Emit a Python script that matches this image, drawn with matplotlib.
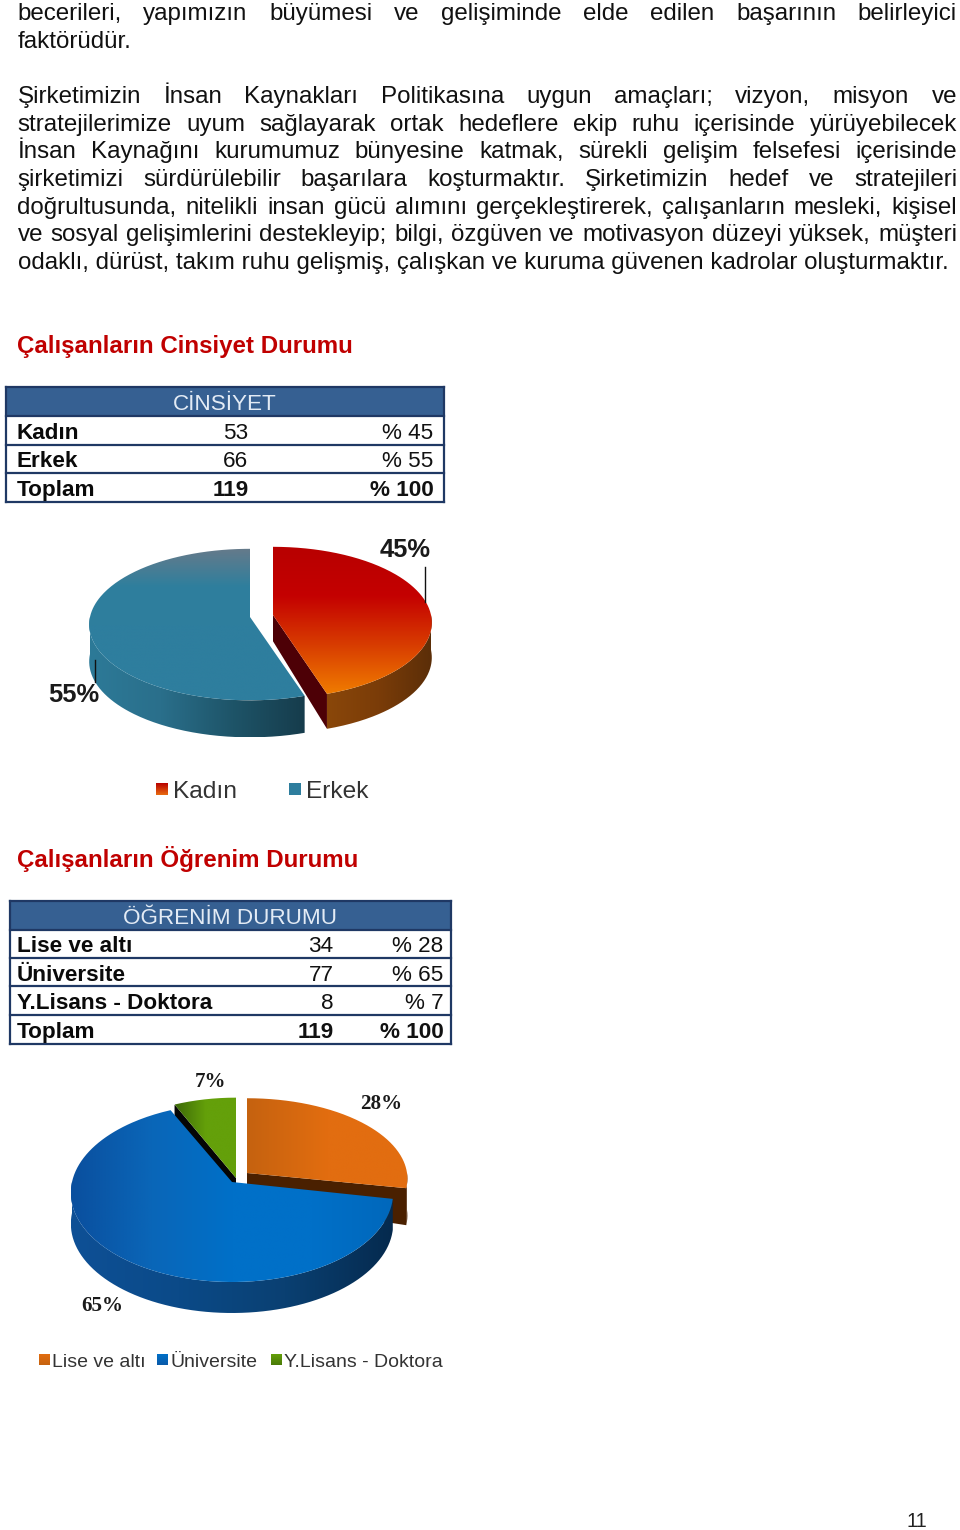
import numpy as np
import matplotlib
matplotlib.use("Agg")
import matplotlib.pyplot as plt
from matplotlib.colors import LinearSegmentedColormap
from matplotlib.patches import PathPatch, Rectangle
from matplotlib.path import Path

# ---------- content ----------
body_lines = [
    "becerileri, yapımızın büyümesi ve gelişiminde elde edilen başarının belirleyici",
    "faktörüdür.",
    "Şirketimizin İnsan Kaynakları Politikasına uygun amaçları; vizyon, misyon ve",
    "stratejilerimize uyum sağlayarak ortak hedeflere ekip ruhu içerisinde yürüyebilecek",
    "İnsan Kaynağını kurumumuz bünyesine katmak, sürekli gelişim felsefesi içerisinde",
    "şirketimizi sürdürülebilir başarılara koşturmaktır. Şirketimizin hedef ve stratejileri",
    "doğrultusunda, nitelikli insan gücü alımını gerçekleştirerek, çalışanların mesleki, kişisel",
    "ve sosyal gelişimlerini destekleyip; bilgi, özgüven ve motivasyon düzeyi yüksek, müşteri",
    "odaklı, dürüst, takım ruhu gelişmiş, çalışkan ve kuruma güvenen kadrolar oluşturmaktır.",
]
body_baselines = [20, 48, 103, 131, 158, 186, 214, 241, 269]
body_justified = [True, False, True, True, True, True, True, True, False]

title_gender = "Çalışanların Cinsiyet Durumu"
title_edu = "Çalışanların Öğrenim Durumu"

gender_header = "CİNSİYET"
gender_names = ["Kadın", "Erkek", "Toplam"]
gender_counts = [53, 66, 119]
gender_pct = [45, 55, 100]

edu_header = "ÖĞRENİM DURUMU"
edu_names = ["Lise ve altı", "Üniversite", "Y.Lisans - Doktora", "Toplam"]
edu_counts = [34, 77, 8, 119]
edu_pct = [28, 65, 7, 100]

gender_shares = gender_pct[:2]
edu_shares = edu_pct[:3]

# ---------- canvas in page pixels ----------
plt.rcParams["font.family"] = ["Liberation Sans", "DejaVu Sans"]
W, H = 960, 1530
fig = plt.figure(figsize=(W / 100, H / 100), dpi=100, facecolor="white")
ax = fig.add_axes([0, 0, 1, 1])
ax.set_xlim(0, W)
ax.set_ylim(H, 0)
ax.axis("off")
rend = fig.canvas.get_renderer()


def px(size):
    return size * 0.72


BODY = px(24.1)
LEFT, RIGHT = 17.5, 957
TABLE = px(22.5)


def text_width(s, size, **kw):
    t = ax.text(0, 0, s, fontsize=size, **kw)
    w = t.get_window_extent(rend).width
    t.remove()
    return w


for line, yb, just in zip(body_lines, body_baselines, body_justified):
    if just:
        words = line.split(" ")
        widths = [text_width(w, BODY) for w in words]
        gap = (RIGHT - LEFT - sum(widths)) / (len(words) - 1)
        x = LEFT
        for w, wd in zip(words, widths):
            ax.text(x, yb, w, fontsize=BODY, color="#111111", va="baseline", ha="left")
            x += wd + gap
    else:
        ax.text(LEFT, yb, line, fontsize=BODY, color="#111111", va="baseline", ha="left")

ax.text(17, 353, title_gender, fontsize=px(24.1), fontweight="bold", color="#c00000", va="baseline")
ax.text(17, 867, title_edu, fontsize=px(24.1), fontweight="bold", color="#c00000", va="baseline")


# ---------- tables ----------
def draw_table(x0, x1, row_edges, header, hx, names, counts, pcts, count_x, pct_x, bases):
    navy = "#1f3864"
    ax.add_patch(Rectangle((x0, row_edges[0]), x1 - x0, row_edges[1] - row_edges[0],
                           facecolor="#366092", edgecolor="none", zorder=2))
    for ye in row_edges:
        ax.plot([x0, x1], [ye, ye], color=navy, lw=1.6, zorder=3, solid_capstyle="projecting")
    for xe in (x0, x1):
        ax.plot([xe, xe], [row_edges[0], row_edges[-1]], color=navy, lw=1.6, zorder=3,
                solid_capstyle="projecting")
    ax.text(hx, bases[0], header, fontsize=TABLE, color="#e3ebf5", ha="center", va="baseline", zorder=4)
    last = len(names) - 1
    for i, (n, c, p) in enumerate(zip(names, counts, pcts)):
        yb = bases[i + 1]
        wt = "bold" if i == last else "normal"
        ax.text(17, yb, n, fontsize=TABLE, fontweight="bold", color="#0a0a0a", va="baseline", zorder=4)
        ax.text(count_x, yb, str(c), fontsize=TABLE, fontweight=wt, color="#111111",
                ha="right", va="baseline", zorder=4)
        ax.text(pct_x, yb, f"% {p}", fontsize=TABLE, fontweight=wt, color="#111111",
                ha="right", va="baseline", zorder=4)


draw_table(6, 444, [387, 416, 445, 473, 502], gender_header, 225, gender_names, gender_counts,
           gender_pct, 248.5, 433.5, [410, 439, 467, 496])
draw_table(10, 451, [901, 930, 958, 986, 1015, 1044], edu_header, 230, edu_names, edu_counts,
           edu_pct, 333.5, 443.5, [924, 952, 981, 1009, 1038])


# ---------- pseudo-3D pies ----------
def gradient_fill(path, stops, horizontal=False, zorder=5):
    xs, ys = path.vertices[:, 0], path.vertices[:, 1]
    cmap = LinearSegmentedColormap.from_list("g", stops)
    g = np.linspace(0, 1, 256)
    arr = g[None, :] if horizontal else g[:, None]
    im = ax.imshow(arr, cmap=cmap, extent=(xs.min(), xs.max(), ys.max(), ys.min()),
                   origin="upper", aspect="auto", interpolation="bilinear", zorder=zorder)
    patch = PathPatch(path, transform=ax.transData, facecolor="none", edgecolor="none")
    ax.add_patch(patch)
    im.set_clip_path(patch)
    ax.set_xlim(0, W)
    ax.set_ylim(H, 0)


def slice_angles(shares):
    """Clockwise from 12 o'clock, as the source pies."""
    out, a = [], 90.0
    for s in shares:
        b = a - 360.0 * s / sum(shares)
        out.append((a, b))
        a = b
    return out


def project(apex, rx, ry, k, theta):
    t = np.radians(theta)
    x, y = np.cos(t), np.sin(t)
    d = 1 + k * y
    return apex[0] + rx * x / d, apex[1] - ry * y / d


def closed(xs, ys):
    v = np.column_stack([xs, ys])
    v = np.vstack([v, v[0]])
    return Path(v)


def draw_slice(apex, rx, ry, k, depth, a, b, top, wall, cut, z):
    th = np.linspace(a, b, 200)
    ax_, ay_ = project(apex, rx, ry, k, th)
    # outer rim: only the front half of the disc shows
    lo, hi = max(b, -180.0), min(a, 0.0)
    if hi > lo:
        rim = np.linspace(hi, lo, 150)
        rx_, ry_ = project(apex, rx, ry, k, rim)
        gradient_fill(closed(np.r_[rx_, rx_[::-1]], np.r_[ry_, ry_[::-1] + depth]),
                      wall, horizontal=True, zorder=z)
    # radial cut walls
    for edge, col in cut:
        ex, ey = project(apex, rx, ry, k, edge)
        ax.fill([apex[0], ex, ex, apex[0]],
                [apex[1], ey, ey + depth, apex[1] + depth * 0.75],
                color=col, lw=0, zorder=z + 0.1)
    path = closed(np.r_[apex[0], ax_], np.r_[apex[1], ay_])
    gradient_fill(path, top[0], horizontal=top[1], zorder=z + 0.2)


g_ang = slice_angles(gender_shares)
e_ang = slice_angles(edu_shares)

# gender pie
draw_slice((273, 615), 158, 75, 0.10, 35, g_ang[0][0], g_ang[0][1],
           (["#b80000", "#c40000", "#d83c00", "#f07c00"], False),
           ["#8a470a", "#7a3c08", "#5b2e08"], [(g_ang[0][1], "#4d0006")], 10)
draw_slice((250, 617), 160, 75, 0.10, 37, g_ang[1][0], g_ang[1][1],
           (["#667a8a", "#2f7f9d", "#2e7e9e", "#2e7e9e", "#2e7e9e"], False),
           ["#2d7a98", "#2a6f8b", "#1e5468", "#163c4c"], [], 12)

# education pie
draw_slice((247, 1173), 160, 80, 0.07, 37, e_ang[0][0], e_ang[0][1],
           (["#c5620f", "#e26d10", "#e26d10"], True),
           ["#4a2000", "#4a2000"], [(e_ang[0][1], "#4a2000")], 10)
draw_slice((236, 1178), 160, 90, 0.12, 31, e_ang[2][0], e_ang[2][1],
           (["#3d6a08", "#64a00a", "#64a00a"], True),
           ["#000000", "#000000"], [(e_ang[2][0], "#050505")], 11)
draw_slice((232, 1182), 160, 88, 0.12, 31, e_ang[1][0], e_ang[1][1],
           (["#0a4f9e", "#0a66b8", "#0070c8", "#0070c8", "#0068bc"], True),
           ["#0e5096", "#0b4a88", "#0a4072", "#052a4e"], [], 12)

# percent labels
pie_labels = [("45%", 405, 550, "Liberation Sans", 25.5), ("55%", 74, 695, "Liberation Sans", 25.5),
              ("7%", 211, 1082, "Liberation Serif", 21), ("28%", 381, 1104, "Liberation Serif", 21),
              ("65%", 102, 1306, "Liberation Serif", 21)]
for s, x, y, fam, size in pie_labels:
    ax.text(x, y, s, family=fam, fontsize=px(size), fontweight="bold", color="#1a1a1a",
            ha="center", va="center", zorder=20)
ax.plot([425, 425], [567, 602], color="#111111", lw=1, zorder=20)
ax.plot([95, 95], [660, 682], color="#111111", lw=1, zorder=20)


# legends
def legend_item(x, y, s, label, stops, tx, base, size):
    p = Path([(x, y), (x + s, y), (x + s, y + s), (x, y + s), (x, y)])
    gradient_fill(p, stops, zorder=6)
    ax.text(tx, base, label, fontsize=px(size), color="#333333", va="baseline", zorder=7)


legend_item(156, 783, 12, gender_names[0], ["#b80000", "#e86c10"], 173, 798, 24.5)
legend_item(289, 783, 12, gender_names[1], ["#2e7e9e", "#2e7e9e"], 306, 798, 24.5)
legend_item(39, 1354, 11, edu_names[0], ["#e26d10", "#c5620f"], 52, 1367, 19.5)
legend_item(157, 1354, 11, edu_names[1], ["#0070c8", "#0a5aa8"], 170, 1367, 19.5)
legend_item(271, 1354, 11, edu_names[2], ["#64a00a", "#4a7a08"], 284, 1367, 19.5)

ax.text(927, 1527, "11", fontsize=px(20), color="#222222", ha="right", va="baseline")

fig.savefig("out.png", dpi=100, facecolor="white")
